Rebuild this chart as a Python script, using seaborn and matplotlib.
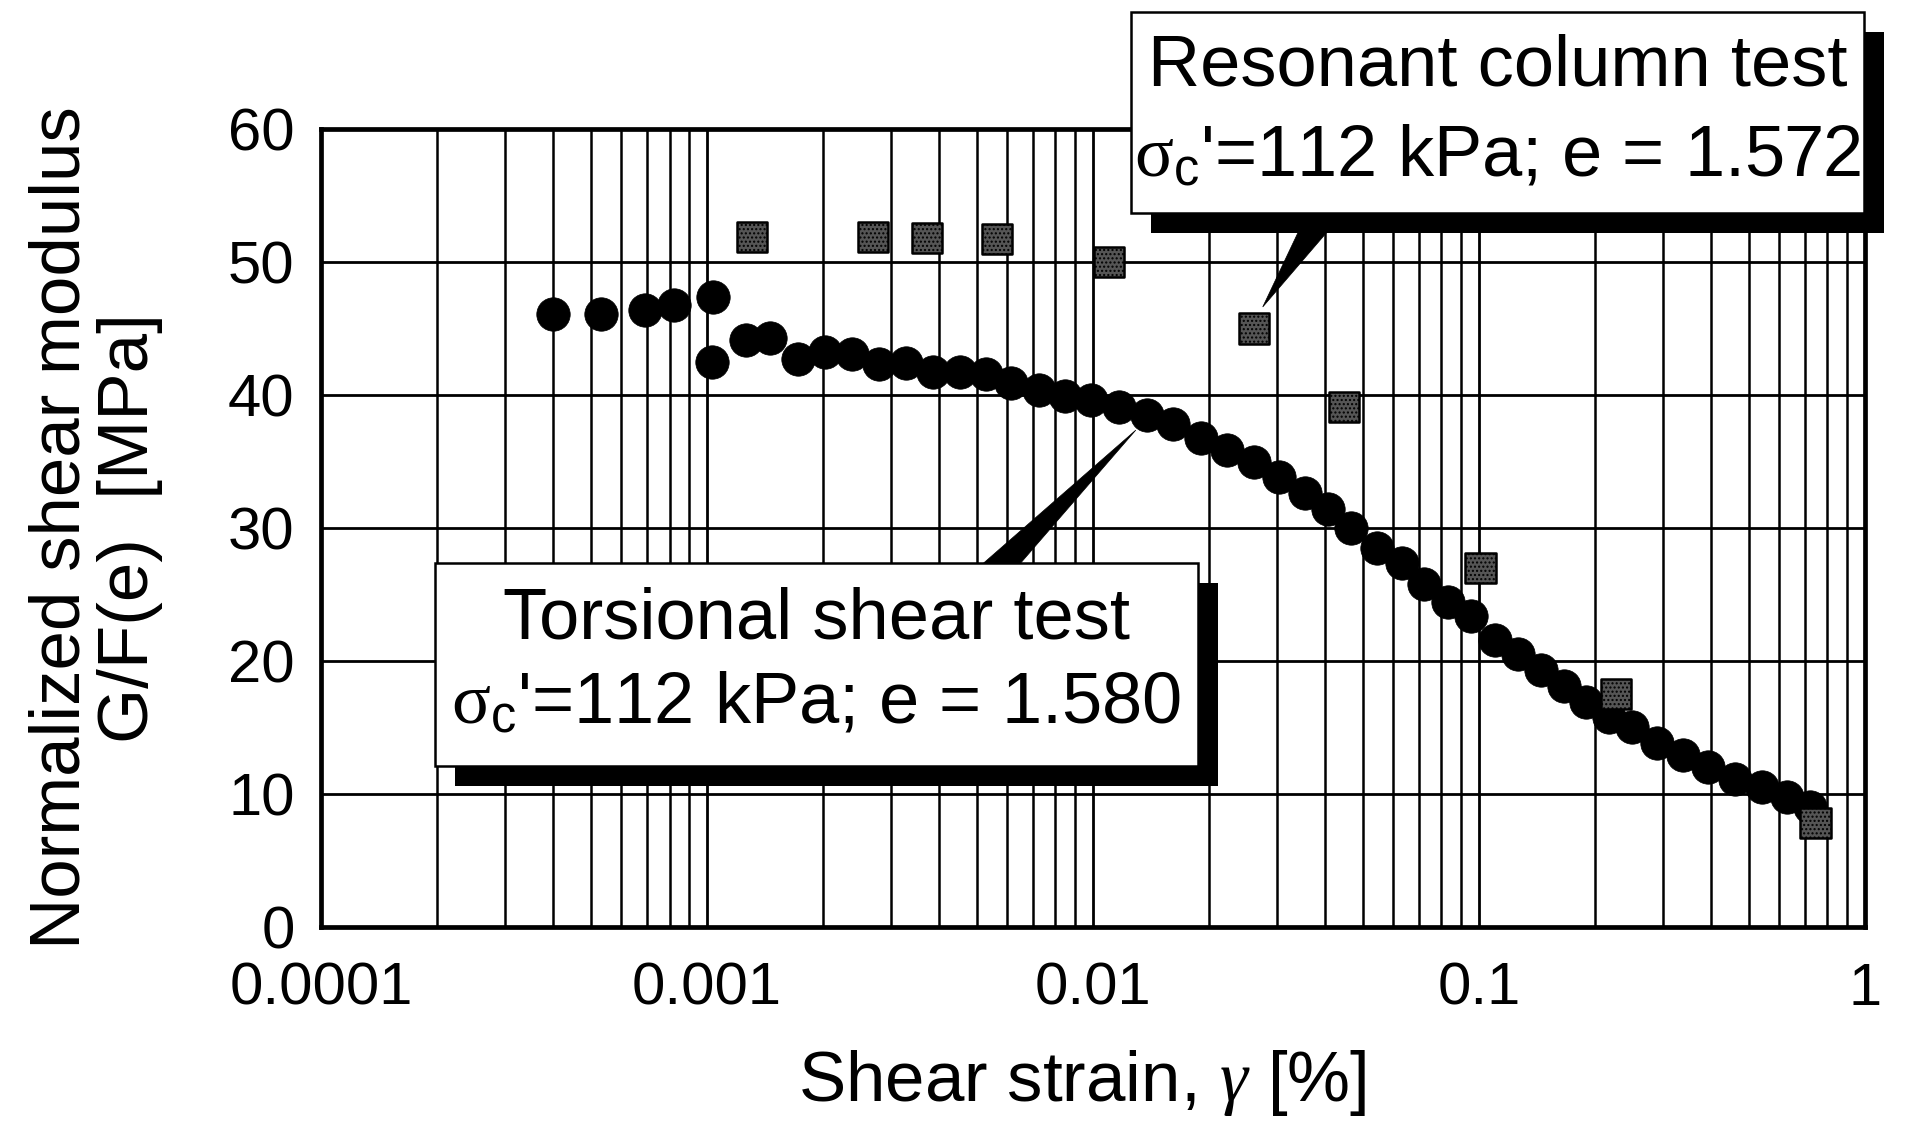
import numpy as np
import matplotlib
matplotlib.use("Agg")
import matplotlib.pyplot as plt
import seaborn as sns
from matplotlib.patches import Rectangle, Polygon
from matplotlib.ticker import LogLocator, FixedLocator, FixedFormatter, NullFormatter

# ---------------- data ----------------
ts_strain = [4.0e-4, 5.3e-4, 6.9e-4, 8.2e-4, 1.04e-3, 1.03e-3, 1.26e-3, 1.46e-3,
             1.72e-3, 2.02e-3, 2.38e-3, 2.79e-3, 3.28e-3, 3.85e-3, 4.52e-3,
             5.3e-3, 6.15e-3, 7.25e-3, 8.45e-3, 9.9e-3, 1.17e-2, 1.38e-2,
             1.61e-2, 1.91e-2, 2.23e-2, 2.61e-2, 3.04e-2, 3.54e-2, 4.07e-2,
             4.67e-2, 5.43e-2, 6.32e-2, 7.21e-2, 8.34e-2, 9.55e-2, 0.110,
             0.126, 0.145, 0.166, 0.189, 0.217, 0.249, 0.290, 0.337, 0.393,
             0.460, 0.540, 0.629, 0.722]
ts_modulus = [46.1, 46.1, 46.4, 46.8, 47.4, 42.5, 44.1, 44.3, 42.7, 43.2, 43.1,
              42.3, 42.4, 41.7, 41.7, 41.6, 40.9, 40.4, 39.9, 39.6, 39.1, 38.5,
              37.8, 36.8, 35.9, 35.0, 33.8, 32.6, 31.4, 30.0, 28.5, 27.4, 25.8,
              24.4, 23.4, 21.6, 20.5, 19.3, 18.1, 16.9, 15.8, 15.0, 13.8, 12.9,
              12.0, 11.1, 10.5, 9.8, 9.0]

rc_strain = [1.31e-3, 2.70e-3, 3.72e-3, 5.65e-3, 1.10e-2, 2.61e-2, 4.47e-2,
             0.101, 0.226, 0.745]
rc_modulus = [51.9, 51.9, 51.8, 51.7, 50.0, 45.0, 39.1, 27.0, 17.5, 7.8]

x_ticks = [0.0001, 0.001, 0.01, 0.1, 1]
x_tick_labels = ["0.0001", "0.001", "0.01", "0.1", "1"]
y_ticks = [0, 10, 20, 30, 40, 50, 60]
y_tick_labels = ["0", "10", "20", "30", "40", "50", "60"]

x_label = r"Shear strain, $\mathit{\gamma}$ [%]"
y_label = "Normalized shear modulus\nG/F(e)  [MPa]"
ts_lines = ["Torsional shear test",
            r"$\mathrm{\sigma}_{\mathsf{c}}$'=112 kPa; e = 1.580"]
rc_lines = ["Resonant column test",
            r"$\mathrm{\sigma}_{\mathsf{c}}$'=112 kPa; e = 1.572"]

# ---------------- style ----------------
sns.set_theme(style="white")
plt.rcParams["font.family"] = ["Liberation Sans", "DejaVu Sans"]
plt.rcParams.update({
    "mathtext.fontset": "custom",
    "mathtext.rm": "Liberation Serif",
    "mathtext.it": "Liberation Serif:italic",
    "mathtext.sf": "Liberation Sans",
})

fig = plt.figure(figsize=(19.07, 11.27), dpi=100)
fig.patch.set_facecolor("white")
ax = fig.add_axes([0.1683, 0.1775, 0.8096, 0.708])

ax.set_xscale("log")
ax.set_xlim(1e-4, 1)
ax.set_ylim(0, 60)

ax.xaxis.set_major_locator(FixedLocator(x_ticks))
ax.xaxis.set_major_formatter(FixedFormatter(x_tick_labels))
ax.xaxis.set_minor_locator(LogLocator(base=10, subs=np.arange(2, 10)))
ax.xaxis.set_minor_formatter(NullFormatter())
ax.yaxis.set_major_locator(FixedLocator(y_ticks))
ax.yaxis.set_major_formatter(FixedFormatter(y_tick_labels))

ax.grid(which="major", axis="both", color="black", linewidth=2.0)
ax.grid(which="minor", axis="x", color="black", linewidth=1.8)
ax.set_axisbelow(True)

ax.tick_params(axis="both", which="both", length=0, labelsize=43, colors="black")
ax.tick_params(axis="x", pad=25)
ax.tick_params(axis="y", pad=19)
for s in ax.spines.values():
    s.set_color("black")
    s.set_linewidth(3.4)
    s.set_zorder(4)

# ---------------- data marks ----------------
sns.scatterplot(x=ts_strain, y=ts_modulus, ax=ax, marker="o", s=580,
                color="black", edgecolor="black", linewidth=0.5, zorder=3,
                legend=False)
with plt.rc_context({"hatch.color": "#d8d8d8", "hatch.linewidth": 1.0}):
    sns.scatterplot(x=rc_strain, y=rc_modulus, ax=ax, marker="s", s=470,
                    color="#555555", edgecolor="black", linewidth=1.8,
                    hatch="....", zorder=3, legend=False)

# ---------------- labels ----------------
ax.set_xlabel(x_label, fontsize=51, color="black")
ax.xaxis.set_label_coords(0.493, -0.1955)
ax.xaxis.label.set_va("center")
ax.set_ylabel(y_label, fontsize=51, color="black", linespacing=1.05)
ax.yaxis.set_label_coords(-0.1457, 0.5)
ax.yaxis.label.set_va("center")

# ---------------- callout boxes ----------------
dx, dy = 20 / 1544, 20 / 798


def callout(x0, y0, x1, y1, wedge, lines, ly):
    tr = ax.transAxes
    ax.add_patch(Polygon(wedge, closed=True, transform=tr, facecolor="black",
                         edgecolor="black", lw=0.5, clip_on=False, zorder=5))
    ax.add_patch(Rectangle((x0 + dx, y0 - dy), x1 - x0, y1 - y0, transform=tr,
                           facecolor="black", edgecolor="none", clip_on=False,
                           zorder=5))
    ax.add_patch(Rectangle((x0, y0), x1 - x0, y1 - y0, transform=tr,
                           facecolor="white", edgecolor="black", lw=1.8,
                           clip_on=False, zorder=6))
    xc = (x0 + x1) / 2
    for txt, yy in zip(lines, ly):
        ax.text(xc, yy, txt, transform=tr, ha="center", va="center",
                fontsize=52, color="black", zorder=7, clip_on=False)


callout(0.0738, 0.2018, 0.568, 0.456,
        [(0.4268, 0.452), (0.4514, 0.452), (0.5278, 0.6227)],
        ts_lines, [(927 - 620) / 798, (927 - 705) / 798])
callout(0.5246, 0.8947, 0.9994, 1.1466,
        [(0.634, 0.875), (0.6535, 0.875), (0.610, 0.777)],
        rc_lines, [(927 - 67) / 798, (927 - 158) / 798])

fig.savefig("out.png", dpi=100, facecolor="white")
